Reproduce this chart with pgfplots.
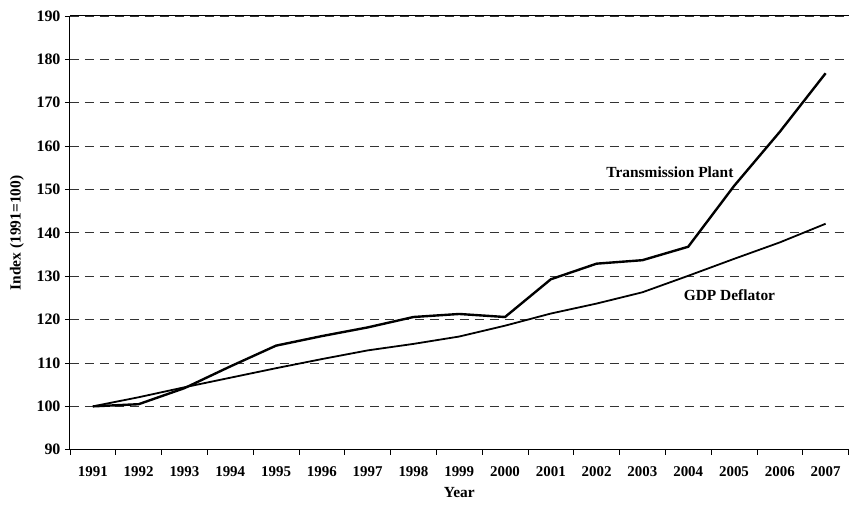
\documentclass[border=0pt]{standalone}
\usepackage{fontspec}
\setmainfont{Liberation Serif}
\usepackage{pgfplots}
\pgfplotsset{compat=1.18}
\begin{document}
\begin{tikzpicture}
\begin{axis}[
  name=ax,
  scale only axis,
  width=779bp, height=434bp,
  xmin=-0.5, xmax=16.5,
  ymin=90, ymax=190,
  ytick={90,100,...,190},
  xtick={-0.5,0.5,...,16.5},
  x tick label as interval=true,
  xticklabels={1991,1992,1993,1994,1995,1996,1997,1998,1999,2000,2001,2002,2003,2004,2005,2006,2007},
  axis x line*=bottom,
  axis y line*=left,
  axis line style={black, line width=1pt, -},
  tick align=outside,
  major tick length=5bp,
  tick style={black, line width=0.8pt},
  ymajorgrids,
  grid style={black!80, dash pattern=on 9bp off 6bp, line width=0.9pt},
  font=\fontsize{15}{17}\selectfont\bfseries,
  /pgf/number format/assume math mode=true,
  xticklabel style={font=\fontsize{15}{17}\selectfont\bfseries, anchor=center, yshift=-17bp},
  yticklabel style={font=\fontsize{16}{18}\selectfont\bfseries, xshift=-1bp},
  xlabel={Year},
  ylabel={Index (1991=100)},
  xlabel style={at={(axis description cs:0.5,0)}, anchor=center, yshift=-43bp, font=\fontsize{15.5}{17}\selectfont\bfseries},
  ylabel style={at={(axis description cs:0,0.5)}, anchor=center, yshift=53bp, font=\fontsize{15.5}{17}\selectfont\bfseries},
  clip=false,
]
\draw[black, line width=1pt] (rel axis cs:0,1) -- (rel axis cs:1,1);
\addplot[black, line width=2.4pt, line join=round] coordinates {
(0,100) (1,100.5) (2,104.2) (3,109.2) (4,114) (5,116.2) (6,118.2) (7,120.6) (8,121.3) (9,120.6) (10,129.3) (11,132.9) (12,133.7) (13,136.8) (14,150.8) (15,163.3) (16,176.8)
};
\addplot[black, line width=1.8pt, line join=round] coordinates {
(0,100) (1,102.1) (2,104.4) (3,106.6) (4,108.8) (5,110.9) (6,112.9) (7,114.4) (8,116.1) (9,118.6) (10,121.4) (11,123.7) (12,126.3) (13,130.1) (14,134) (15,137.8) (16,142.1)
};
\node[font=\fontsize{15.5}{17}\selectfont\bfseries] at (axis cs:12.6,153.9) {Transmission Plant};
\node[font=\fontsize{15.5}{17}\selectfont\bfseries] at (axis cs:13.9,125.7) {GDP Deflator};
\end{axis}
\path ([yshift=16bp,xshift=-70bp]ax.north west) -- ([yshift=-61bp]ax.south west);
\end{tikzpicture}
\end{document}
